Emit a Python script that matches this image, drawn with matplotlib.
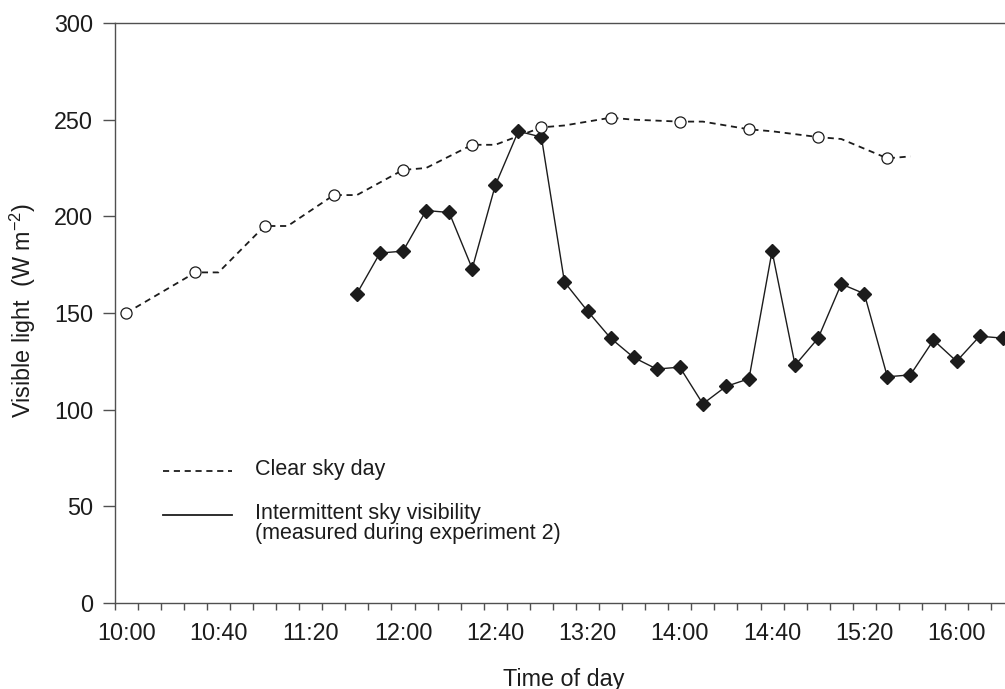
import matplotlib
matplotlib.use("Agg")
import matplotlib.pyplot as plt
from matplotlib.lines import Line2D
from matplotlib.ticker import FixedLocator

plt.rcParams['font.family'] = ['Liberation Sans', 'DejaVu Sans']
plt.rcParams['mathtext.fontset'] = 'custom'
plt.rcParams['mathtext.rm'] = 'Liberation Sans'

# times are minutes after 10:00
clear_min = [0, 30, 40, 60, 70, 90, 100, 120, 130, 150, 160, 180, 190,
             210, 220, 240, 250, 270, 280, 300, 310, 330, 340]
clear_val = [150, 171, 171, 195, 195, 211, 211, 224, 225, 237, 237, 246, 247,
             251, 250, 249, 249, 245, 244, 241, 240, 230, 231]

sky_min = [100, 110, 120, 130, 140, 150, 160, 170, 180, 190, 200, 210, 220,
           230, 240, 250, 260, 270, 280, 290, 300, 310, 320, 330, 340, 350,
           360, 370, 380]
sky_val = [160, 181, 182, 203, 202, 173, 216, 244, 241, 166, 151, 137, 127,
           121, 122, 103, 112, 116, 182, 123, 137, 165, 160, 117, 118, 136,
           125, 138, 137]

tick_min = [0, 40, 80, 120, 160, 200, 240, 280, 320, 360]
tick_labels = ['10:00', '10:40', '11:20', '12:00', '12:40',
               '13:20', '14:00', '14:40', '15:20', '16:00']
minor_min = list(range(-5, 380, 10))

ink = '#1c1c1c'
axis_col = '#505050'
fs = 16.8
key_fs = 15.5

fig = plt.figure(figsize=(10.05, 6.89), dpi=100)
W, H = 1005, 689
ax = fig.add_axes([114.7 / W, 1 - 603 / H, (W - 114.7) / W, 580 / H])

# circles only on the half-hour readings
circle_idx = [i for i, t in enumerate(clear_min) if t % 30 == 0]

ax.plot(sky_min, sky_val, color=ink, lw=1.0, marker='D', ms=6.9,
        mfc=ink, mec=ink, clip_on=False, zorder=3)
ax.plot(clear_min, clear_val, color=ink, lw=1.3, linestyle=(0, (3.4, 2.6)),
        marker='o', markevery=circle_idx, ms=8, mfc='white', mec=ink,
        mew=0.9, zorder=4)

ax.set_xlim(-5, 381)
ax.set_ylim(0, 300)
ax.set_xticks(tick_min)
ax.set_xticklabels(tick_labels)
ax.xaxis.set_minor_locator(FixedLocator(minor_min))
ax.set_yticks(range(0, 301, 50))

ax.tick_params(axis='x', which='major', length=0, pad=14, labelsize=fs,
               labelcolor=ink)
ax.tick_params(axis='x', which='minor', length=5, width=1.0,
               direction='out', color=axis_col)
ax.tick_params(axis='y', length=8.8, width=1.0, pad=6.8, labelsize=fs,
               color=axis_col, labelcolor=ink)

ax.spines['right'].set_visible(False)
for s in ('left', 'bottom', 'top'):
    ax.spines[s].set_color(axis_col)
    ax.spines[s].set_linewidth(1.0)

ax.set_xlabel('Time of day', fontsize=fs, color=ink)
ax.xaxis.set_label_coords((563.8 - 114.7) / (W - 114.7), -0.112)
ax.set_ylabel(r'Visible light  (W m$^{\mathregular{-2}}$)', fontsize=fs,
              color=ink, va='center')
ax.yaxis.set_label_coords((22.7 - 114.7) / (W - 114.7), (603 - 311) / 580)

# key, drawn in figure pixels
def fx(px):
    return px / W

def fy(py):
    return 1 - py / H

fig.add_artist(Line2D([fx(163.3), fx(231.7)], [fy(470.7)] * 2, color=ink,
                      lw=1.3, linestyle=(0, (3.4, 2.6))))
fig.add_artist(Line2D([fx(163.3), fx(231.7)], [fy(515)] * 2, color=ink,
                      lw=1.3))
fig.text(fx(255), fy(470), 'Clear sky day', fontsize=key_fs, color=ink,
         va='center')
fig.text(fx(255), fy(513.5), 'Intermittent sky visibility', fontsize=key_fs,
         color=ink, va='center')
fig.text(fx(255), fy(533), '(measured during experiment 2)',
         fontsize=key_fs, color=ink, va='center')

fig.savefig('out.png', dpi=100)
